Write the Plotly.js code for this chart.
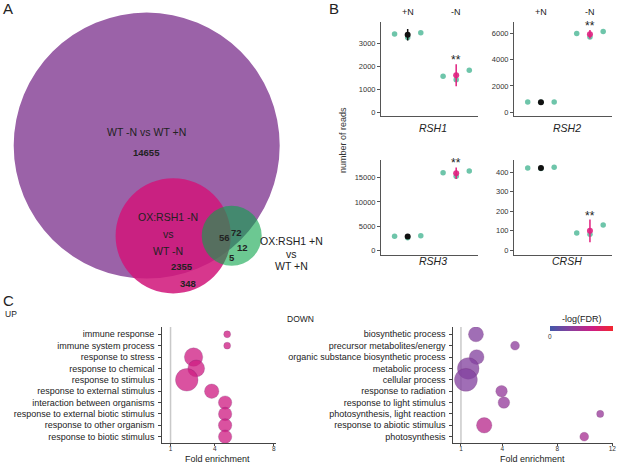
<!DOCTYPE html>
<html>
<head>
<meta charset="utf-8">
<script src="https://cdn.plot.ly/plotly-3.0.1.min.js"></script>
<style>html,body{margin:0;padding:0;background:#fff;}#chart{width:617px;height:466px;}</style>
</head>
<body>
<div id="chart"></div>
<script>
// ---------- DATA ----------
// Panel A: Venn counts
const vennSetNames = ['WT -N vs WT +N', 'OX:RSH1 -N<br>vs<br>WT -N', 'OX:RSH1 +N<br>vs<br>WT +N'];
const vennOnlyWT = 14655;
const vennWTandOXminus = 2355;
const vennOnlyOXminus = 348;
const vennAllThree = 56;
const vennWTandOXplus = 72;
const vennOnlyOXplus = 12;
const vennOXminusAndOXplus = 5;

// Panel B: number of reads
const genes = ['RSH1', 'RSH2', 'RSH3', 'CRSH'];
const conditions = ['+N', '-N'];
const repPlusN = [[3400, 3250, 3460], [760, 740, 760], [2890, 2600, 3020], [422, 420, 426]];
const repMinusN = [[1565, 1420, 1825], [6010, 5750, 6160], [16030, 15320, 16380], [89, 82, 130]];
const meanPlusN = [3370, 750, 2830, 422];
const errPlusN = [250, 30, 120, 3];
const meanMinusN = [1610, 5950, 15910, 100];
const errMinusN = [480, 320, 1200, 58];

// Panel C: GO enrichment
const upTerms = ['immune response', 'immune system process', 'response to stress', 'response to chemical',
  'response to stimulus', 'response to external stimulus', 'interaction between organisms',
  'response to external biotic stimulus', 'response to other organism', 'response to biotic stimulus'];
const upFold = [4.84, 4.84, 2.56, 2.74, 2.10, 3.79, 4.70, 4.70, 4.70, 4.70];
const upGenes = [25, 25, 180, 150, 270, 110, 95, 95, 95, 95];
const upLogFDR = [68, 68, 68, 68, 68, 68, 68, 68, 68, 68];

const downTerms = ['biosynthetic process', 'precursor metabolites/energy', 'organic substance biosynthetic process',
  'metabolic process', 'cellular process', 'response to radiation', 'response to light stimulus',
  'photosynthesis, light reaction', 'response to abiotic stimulus', 'photosynthesis'];
const downFold = [2.09, 4.93, 2.14, 1.53, 1.36, 3.95, 4.12, 11.12, 2.69, 9.96];
const downGenes = [119, 41, 115, 247, 277, 70, 70, 27, 126, 41];
const downLogFDR = [30, 35, 30, 30, 30, 38, 38, 40, 56, 48];

// ---------- LAYOUT HELPERS ----------
const W = 617, H = 466;
const fx = v => v / W;
const fy = v => 1 - v / H;
const FONT = 'Liberation Sans, Arial, Helvetica, sans-serif';
const TXT = '#222';

const traces = [];
const annotations = [];
const shapes = [];
const layout = {
  width: W, height: H,
  margin: {l: 0, r: 0, t: 0, b: 0, pad: 0},
  paper_bgcolor: '#fff', plot_bgcolor: 'rgba(0,0,0,0)',
  showlegend: false,
  font: {family: FONT, color: TXT, size: 10},
  annotations: annotations,
  shapes: shapes
};

function ann(o) {
  annotations.push(Object.assign({showarrow: false, xanchor: 'center', yanchor: 'middle'}, o));
}

// ---------- PANEL A: Venn ----------
const vennGeom = {
  big: {cx: 146.7, cy: 145.6, r: 133, fill: '#9b62a8', op: 1},
  pink: {cx: 173.2, cy: 235.8, r: 57.6, fill: '#d1167a', op: 0.86},
  green: {cx: 231.7, cy: 235.8, r: 30, fill: '#0aa349', op: 0.6}
};
layout.xaxis5 = {domain: [0, fx(330)], range: [0, 330], visible: false, fixedrange: true};
layout.yaxis5 = {domain: [fy(300), 1], range: [300, 0], visible: false, fixedrange: true};
['big', 'pink', 'green'].forEach(k => {
  const c = vennGeom[k];
  shapes.push({type: 'circle', xref: 'x5', yref: 'y5', x0: c.cx - c.r, x1: c.cx + c.r,
    y0: c.cy - c.r, y1: c.cy + c.r, fillcolor: c.fill, opacity: c.op, line: {width: 0}, layer: 'above'});
});
const vf = {family: FONT, color: TXT, size: 10.5};
const vb = {family: FONT, color: TXT, size: 9.5};
ann({xref: 'x5', yref: 'y5', x: 146, y: 131.5, text: vennSetNames[0], font: vf});
ann({xref: 'x5', yref: 'y5', x: 146, y: 152.5, text: '<b>' + vennOnlyWT + '</b>', font: vb});
ann({xref: 'x5', yref: 'y5', x: 168, y: 217, text: 'OX:RSH1 -N', font: vf});
ann({xref: 'x5', yref: 'y5', x: 168, y: 233.5, text: 'vs', font: vf});
ann({xref: 'x5', yref: 'y5', x: 168, y: 250.5, text: 'WT -N', font: vf});
ann({xref: 'x5', yref: 'y5', x: 181.5, y: 266.5, text: '<b>' + vennWTandOXminus + '</b>', font: vb});
ann({xref: 'x5', yref: 'y5', x: 188, y: 283.5, text: '<b>' + vennOnlyOXminus + '</b>', font: vb});
ann({xref: 'x5', yref: 'y5', x: 224.5, y: 237.5, text: '<b>' + vennAllThree + '</b>', font: vb});
ann({xref: 'x5', yref: 'y5', x: 236.5, y: 232.5, text: '<b>' + vennWTandOXplus + '</b>', font: vb});
ann({xref: 'x5', yref: 'y5', x: 242.5, y: 247.5, text: '<b>' + vennOnlyOXplus + '</b>', font: vb});
ann({xref: 'x5', yref: 'y5', x: 231.5, y: 257, text: '<b>' + vennOXminusAndOXplus + '</b>', font: vb});
ann({xref: 'x5', yref: 'y5', x: 291, y: 240.5, text: 'OX:RSH1 +N', font: vf});
ann({xref: 'x5', yref: 'y5', x: 291, y: 253.5, text: 'vs', font: vf});
ann({xref: 'x5', yref: 'y5', x: 291, y: 266, text: 'WT +N', font: vf});

// panel letters
ann({xref: 'paper', yref: 'paper', x: fx(1), y: fy(8), xanchor: 'left', text: 'A', font: {family: FONT, size: 15, color: TXT}});
ann({xref: 'paper', yref: 'paper', x: fx(327), y: fy(8), xanchor: 'left', text: 'B', font: {family: FONT, size: 15, color: TXT}});
ann({xref: 'paper', yref: 'paper', x: fx(1), y: fy(300), xanchor: 'left', text: 'C', font: {family: FONT, size: 15, color: TXT}});

// ---------- PANEL B ----------
const bGeom = [
  {s: '', xd: [381, 478], yd: [22, 116], yr: [-160, 3925], dt: 1000, lab: [433, 127.7], top: true},
  {s: '2', xd: [514, 612], yd: [22, 116], yr: [-305, 6890], dt: 2000, lab: [566.7, 127.7], top: true},
  {s: '3', xd: [381, 478], yd: [159.5, 255], yr: [-970, 18760], dt: 5000, lab: [433, 260.7], top: false},
  {s: '4', xd: [514, 612], yd: [159.5, 255], yr: [-24, 466], dt: 100, lab: [566.7, 260.5], top: false}
];
const jitter = [-0.27, 0, 0.27];
const green = '#66c2a5', pinkMean = '#e0207f';
genes.forEach((g, i) => {
  const G = bGeom[i];
  const xa = 'xaxis' + G.s, ya = 'yaxis' + G.s;
  const xr = 'x' + G.s, yr = 'y' + G.s;
  layout[xa] = {domain: [fx(G.xd[0]), fx(G.xd[1])], range: [0.45, 2.45], anchor: yr,
    showline: true, linecolor: '#555', linewidth: 1, showgrid: false, zeroline: false,
    showticklabels: false, ticks: '', fixedrange: true};
  layout[ya] = {domain: [fy(G.yd[1]), fy(G.yd[0])], range: G.yr, anchor: xr,
    showline: true, linecolor: '#555', linewidth: 1, showgrid: false, zeroline: false,
    ticks: 'outside', ticklen: 3, tickcolor: '#555', tickwidth: 1, dtick: G.dt, tick0: 0,
    tickformat: 'd', exponentformat: 'none',
    tickfont: {family: FONT, size: 7.5, color: '#333'}, fixedrange: true};
  const xs = [], ys = [];
  [repPlusN[i], repMinusN[i]].forEach((arr, c) => arr.forEach((v, k) => { xs.push(c + 1 + jitter[k]); ys.push(v); }));
  traces.push({type: 'scatter', mode: 'markers', x: xs, y: ys, xaxis: xr, yaxis: yr,
    marker: {color: green, size: 5.5, opacity: 0.95}, hoverinfo: 'skip'});
  traces.push({type: 'scatter', mode: 'markers', x: [1], y: [meanPlusN[i]], xaxis: xr, yaxis: yr,
    marker: {color: '#111', size: 6},
    error_y: {type: 'data', array: [errPlusN[i]], color: '#111', thickness: 1.5, width: 0}});
  traces.push({type: 'scatter', mode: 'markers', x: [2], y: [meanMinusN[i]], xaxis: xr, yaxis: yr,
    marker: {color: pinkMean, size: 6, opacity: 0.9},
    error_y: {type: 'data', array: [errMinusN[i]], color: pinkMean, thickness: 1.5, width: 0}});
  ann({xref: xr, yref: yr, x: 2, y: meanMinusN[i] + errMinusN[i], yanchor: 'bottom', yshift: -5,
    text: '**', font: {family: FONT, size: 12, color: TXT}});
  ann({xref: 'paper', yref: 'paper', x: fx(G.lab[0]), y: fy(G.lab[1]), text: '<i>' + g + '</i>',
    font: {family: FONT, size: 10.5, color: TXT}});
  if (G.top) {
    conditions.forEach((c, k) => ann({xref: xr, yref: 'paper', x: k + 1, y: fy(12.3), text: c,
      font: {family: FONT, size: 9, color: TXT}}));
  }
});
ann({xref: 'paper', yref: 'paper', x: fx(343), y: fy(140), text: 'number of reads', textangle: -90,
  font: {family: FONT, size: 9, color: '#333'}});

// ---------- PANEL C ----------
const rowTop = 334.3, rowBot = 436.7, rowStep = (rowBot - rowTop) / 9;
const cTop = 327, cBot = 443.3;
const yRangeC = [-(cBot - rowBot) / rowStep, 9 + (rowTop - cTop) / rowStep];
layout.coloraxis = {
  cmin: 0, cmax: 100,
  colorscale: [[0, '#4258a9'], [0.33, '#8a3f9e'], [0.68, '#cf1d83'], [1, '#f3262f']],
  colorbar: {orientation: 'h', x: fx(581.3), xanchor: 'center', y: fy(325.7), yanchor: 'top',
    len: 62.7, lenmode: 'pixels', thickness: 4.5, thicknessmode: 'pixels', outlinewidth: 0,
    xpad: 0, ypad: 0, tickvals: [0, 100], ticks: '', ticklabelposition: 'outside bottom',
    ticklabelstandoff: -2,
    tickfont: {family: FONT, size: 6.5, color: '#333'},
    title: {text: ''}}
};
ann({xref: 'paper', yref: 'paper', x: fx(581.5), y: fy(319), text: '-log(FDR)',
  font: {family: FONT, size: 9, color: TXT}});
const cPanels = [
  {s: '6', terms: upTerms, fold: upFold, genes: upGenes, fdr: upLogFDR, xd: [161.7, 276], xr: [0.4, 8.15],
   tv: [1, 4, 8], title: 'UP', tpos: [3, 314], flx: 217},
  {s: '7', terms: downTerms, fold: downFold, genes: downGenes, fdr: downLogFDR, xd: [452.7, 613], xr: [0.4, 12.05],
   tv: [1, 4, 8, 12], title: 'DOWN', tpos: [285, 319], flx: 532}
];
cPanels.forEach(P => {
  const xr = 'x' + P.s, yr = 'y' + P.s;
  layout['xaxis' + P.s] = {domain: [fx(P.xd[0]), fx(P.xd[1])], range: P.xr, anchor: yr,
    showline: true, linecolor: '#444', linewidth: 1, showgrid: false, zeroline: false,
    ticks: 'outside', ticklen: 2, tickcolor: '#444', tickvals: P.tv, ticklabelstandoff: -3,
    tickfont: {family: FONT, size: 6.5, color: '#333'}, fixedrange: true};
  layout['yaxis' + P.s] = {domain: [fy(cBot), fy(cTop)], type: 'category',
    categoryorder: 'array', categoryarray: P.terms.slice().reverse(),
    range: yRangeC, anchor: xr, showline: true, linecolor: '#444', linewidth: 1,
    showgrid: false, zeroline: false, ticks: 'outside', ticklen: 2.5, tickcolor: '#444',
    tickfont: {family: FONT, size: 9, color: TXT}, ticklabelstandoff: 2, fixedrange: true};
  shapes.push({type: 'line', xref: xr, yref: yr + ' domain', x0: 1, x1: 1, y0: 0, y1: 1,
    line: {color: '#c9c9c9', width: 1.5}, layer: 'below'});
  traces.push({type: 'scatter', mode: 'markers', x: P.fold, y: P.terms, xaxis: xr, yaxis: yr,
    marker: {size: P.genes, sizemode: 'area', sizeref: 1.06, sizemin: 0, color: P.fdr,
      coloraxis: 'coloraxis', opacity: 0.76, line: {width: 0.8, color: 'rgba(90,20,90,0.35)'}},
    hovertemplate: '%{y}: %{x}<extra></extra>'});
  ann({xref: 'paper', yref: 'paper', x: fx(P.tpos[0]), y: fy(P.tpos[1]), xanchor: 'left', text: P.title,
    font: {family: FONT, size: 8.5, color: TXT}});
  ann({xref: 'paper', yref: 'paper', x: fx(P.flx), y: 0, yanchor: 'bottom',
    text: 'Fold enrichment', font: {family: FONT, size: 9, color: TXT}});
});

Plotly.newPlot('chart', traces, layout, {displayModeBar: false, staticPlot: true});
</script>
</body>
</html>
